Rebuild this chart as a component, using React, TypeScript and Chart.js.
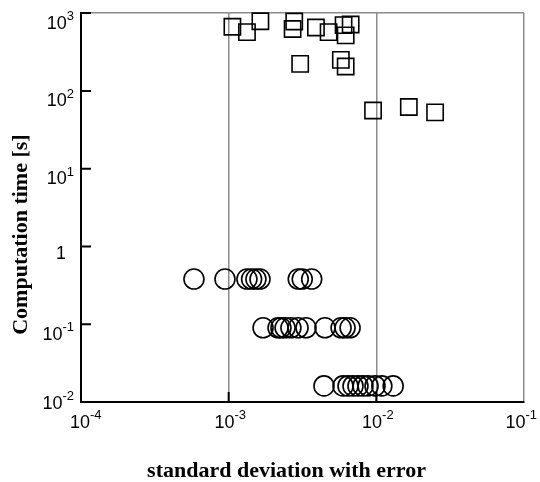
import React, { useEffect, useRef } from 'react';
import { Chart, registerables } from 'chart.js';

Chart.register(...registerables);

// ---- data ----
const X_TICKS = [1e-4, 1e-3, 1e-2, 1e-1];
const X_TICK_MANT = ['10', '10', '10', '10'];
const X_TICK_EXP = ['-4', '-3', '-2', '-1'];

const Y_TICKS = [1e-2, 1e-1, 1, 10, 100, 1000];
const Y_TICK_MANT = ['10', '10', '1', '10', '10', '10'];
const Y_TICK_EXP = ['-2', '-1', '', '1', '2', '3'];

const X_TITLE = 'standard deviation with error';
const Y_TITLE = 'Computation time [s]';

// squares
const SQUARE_X = [1.06e-3, 1.33e-3, 1.64e-3, 2.78e-3, 2.71e-3, 3.9e-3, 4.75e-3, 6.0e-3, 6.7e-3, 6.2e-3, 3.05e-3, 5.75e-3, 6.2e-3, 9.5e-3, 1.66e-2, 2.5e-2];
const SQUARE_Y = [667, 569, 786, 779, 625, 653, 569, 700, 713, 517, 222, 250, 206, 56, 62, 53];

// circles
const CIRCLE_X = [
  5.82e-4, 9.44e-4, 1.33e-3, 1.43e-3, 1.53e-3, 1.63e-3, 2.96e-3, 3.15e-3, 3.65e-3,
  1.71e-3, 2.16e-3, 2.26e-3, 2.41e-3, 2.64e-3, 2.95e-3, 3.34e-3, 4.49e-3, 5.77e-3, 6.14e-3, 6.64e-3,
  4.42e-3, 5.95e-3, 6.43e-3, 6.95e-3, 7.51e-3, 8.12e-3, 8.79e-3, 9.8e-3, 1.09e-2, 1.3e-2,
];
const CIRCLE_Y = [
  0.381, 0.381, 0.381, 0.381, 0.381, 0.381, 0.381, 0.381, 0.381,
  0.09, 0.09, 0.09, 0.09, 0.09, 0.09, 0.09, 0.09, 0.09, 0.09, 0.09,
  0.0161, 0.0161, 0.0161, 0.0161, 0.0161, 0.0161, 0.0161, 0.0161, 0.0161, 0.0161,
];

const MAIN_FONT = '18px "Liberation Sans", Arial, sans-serif';
const SUP_FONT = '13px "Liberation Sans", Arial, sans-serif';
const TITLE_FONT = 'bold 22px "Liberation Serif", "Times New Roman", serif';

function drawSup(ctx: CanvasRenderingContext2D, mant: string, exp: string, x: number, base: number, align: string) {
  ctx.font = MAIN_FONT;
  const w1 = ctx.measureText(mant).width;
  ctx.font = SUP_FONT;
  const w2 = exp ? ctx.measureText(exp).width : 0;
  const total = w1 + w2;
  const sx = align === 'right' ? x - total : align === 'center' ? x - total / 2 : x;
  ctx.textAlign = 'left';
  ctx.textBaseline = 'alphabetic';
  ctx.font = MAIN_FONT;
  ctx.fillText(mant, sx, base);
  if (exp) {
    ctx.font = SUP_FONT;
    ctx.fillText(exp, sx + w1, base - 8.5);
  }
}

const labelPlugin = {
  id: 'supLabels',
  afterDraw(chart: any) {
    const { ctx, chartArea: a, scales } = chart;
    const xs = scales.x;
    const ys = scales.y;
    ctx.save();
    // inward tick marks
    ctx.strokeStyle = '#000';
    ctx.lineWidth = 2;
    ctx.beginPath();
    Y_TICKS.forEach((v, i) => {
      if (i === 0) return;
      const p = ys.getPixelForValue(v);
      ctx.moveTo(a.left, p);
      ctx.lineTo(a.left + 10, p);
    });
    X_TICKS.forEach((v, i) => {
      if (i === 0 || i === X_TICKS.length - 1) return;
      const p = xs.getPixelForValue(v);
      ctx.moveTo(p, a.bottom);
      ctx.lineTo(p, a.bottom - 10);
    });
    ctx.stroke();

    ctx.fillStyle = '#000';
    // y tick labels
    Y_TICKS.forEach((v, i) => {
      const p = ys.getPixelForValue(v);
      const base = i === 0 ? p + 6.5 : Y_TICK_EXP[i] === '' ? p + 13 : p + 15.5;
      const rx = Y_TICK_EXP[i] === '' ? a.left - 15 : a.left - 7;
      drawSup(ctx, Y_TICK_MANT[i], Y_TICK_EXP[i], rx, base, 'right');
    });
    // x tick labels
    X_TICKS.forEach((v, i) => {
      const p = xs.getPixelForValue(v);
      const base = a.bottom + 25.5;
      if (i === 0) drawSup(ctx, X_TICK_MANT[i], X_TICK_EXP[i], a.left - 11, base, 'left');
      else if (i === X_TICKS.length - 1) drawSup(ctx, X_TICK_MANT[i], X_TICK_EXP[i], a.right + 13, base, 'right');
      else drawSup(ctx, X_TICK_MANT[i], X_TICK_EXP[i], p + 1.5, base, 'center');
    });

    // axis titles
    ctx.font = TITLE_FONT;
    ctx.textAlign = 'center';
    ctx.textBaseline = 'alphabetic';
    ctx.fillText(X_TITLE, (a.left + a.right) / 2 - 16, 477);
    ctx.translate(27, (a.top + a.bottom) / 2 + 27);
    ctx.rotate(-Math.PI / 2);
    ctx.fillText(Y_TITLE, 0, 0);
    ctx.restore();
  },
};

export default function App() {
  const ref = useRef<HTMLCanvasElement | null>(null);
  useEffect(() => {
    if (!ref.current) return;
    const chart = new Chart(ref.current, {
      type: 'scatter',
      data: {
        datasets: [
          {
            label: 'squares',
            data: SQUARE_X.map((x, i) => ({ x, y: SQUARE_Y[i] })),
            pointStyle: 'rect',
            pointRadius: 11.5,
            pointHoverRadius: 11.5,
            borderColor: '#000',
            backgroundColor: 'rgba(0,0,0,0)',
            borderWidth: 1.6,
            clip: false,
          } as any,
          {
            label: 'circles',
            data: CIRCLE_X.map((x, i) => ({ x, y: CIRCLE_Y[i] })),
            pointStyle: 'circle',
            pointRadius: 10,
            pointHoverRadius: 10,
            borderColor: '#000',
            backgroundColor: 'rgba(0,0,0,0)',
            borderWidth: 1.6,
            clip: false,
          } as any,
        ],
      },
      options: {
        animation: false,
        responsive: false,
        maintainAspectRatio: false,
        layout: { padding: { left: 0, right: 16, top: 9, bottom: 0 } },
        plugins: { legend: { display: false }, tooltip: { enabled: false } },
        scales: {
          x: {
            type: 'logarithmic',
            min: 1e-4,
            max: 1e-1,
            afterBuildTicks: (s: any) => {
              s.ticks = X_TICKS.map((v) => ({ value: v }));
            },
            afterFit: (s: any) => {
              s.height = 80;
            },
            ticks: { display: false },
            grid: {
              drawTicks: false,
              lineWidth: 1.5,
              color: (c: any) => (c.tick && c.tick.value === X_TICKS[0] ? 'rgba(0,0,0,0)' : '#8c8c8c'),
            },
            border: { display: true, color: '#000', width: 2 },
          },
          y: {
            type: 'logarithmic',
            min: 1e-2,
            max: 1e3,
            afterBuildTicks: (s: any) => {
              s.ticks = Y_TICKS.map((v) => ({ value: v }));
            },
            afterFit: (s: any) => {
              s.width = 81;
            },
            ticks: { display: false },
            grid: {
              drawTicks: false,
              lineWidth: 1.5,
              color: (c: any) => (c.tick && c.tick.value === Y_TICKS[Y_TICKS.length - 1] ? '#8c8c8c' : 'rgba(0,0,0,0)'),
            },
            border: { display: true, color: '#000', width: 2 },
          },
        },
      } as any,
      plugins: [labelPlugin],
    });
    return () => chart.destroy();
  }, []);
  return (
    <div style={{ position: 'absolute', left: 0, top: 0, width: 540, height: 482, background: '#fff' }}>
      <canvas ref={ref} width={540} height={482} style={{ display: 'block' }} />
    </div>
  );
}
